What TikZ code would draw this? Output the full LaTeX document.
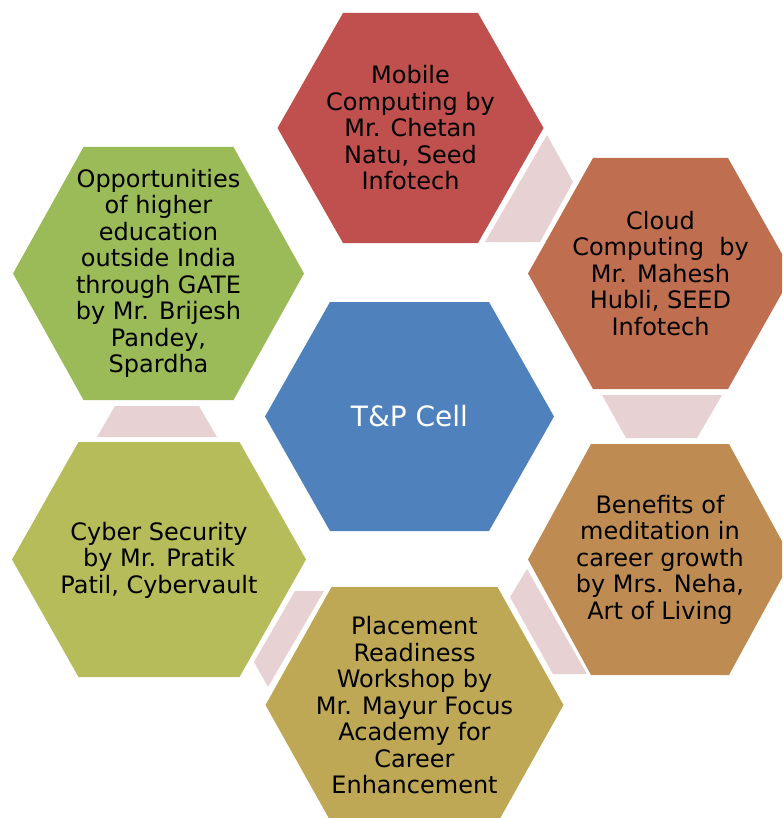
\documentclass[tikz,border=0pt]{standalone}
\usepackage{fontspec}
\setmainfont{DejaVu Sans}
\definecolor{cMob}{HTML}{C0504D}
\definecolor{cCld}{HTML}{BF6E50}
\definecolor{cBen}{HTML}{BE8C52}
\definecolor{cPla}{HTML}{BEA855}
\definecolor{cCyb}{HTML}{B6BC5A}
\definecolor{cOpp}{HTML}{9BBB59}
\definecolor{cTP}{HTML}{4F81BD}
\definecolor{cLink}{HTML}{E8D1D2}
% cx cy halfwidth tophalfwidth halfheight colour
\newcommand\hexshape[6]{%
  \fill[#6] ({#1-#3},{#2}) -- ({#1-#4},{#2-#5}) -- ({#1+#4},{#2-#5})
    -- ({#1+#3},{#2}) -- ({#1+#4},{#2+#5}) -- ({#1-#4},{#2+#5}) -- cycle;}
\begin{document}
\begin{tikzpicture}[x=1pt,y=-1pt,
  hextext/.style={font=\fontsize{24}{26.5}\selectfont, align=center, text=black, inner sep=0pt},
  centertext/.style={font=\fontsize{28}{32}\selectfont, align=center, text=white, inner sep=0pt},
  link/.style={fill=cLink}]
\useasboundingbox (0,0) rectangle (782,818);
\clip (0,0) rectangle (782,818);
% hexagons
\hexshape{410.5}{128}{133}{67.5}{115}{cMob}
\hexshape{660.5}{273.5}{132.5}{67.5}{115.5}{cCld}
\hexshape{660}{559.5}{132}{69}{115.5}{cBen}
\hexshape{414.5}{705}{149}{83}{118}{cPla}
\hexshape{159}{559.5}{147}{80.5}{117.5}{cCyb}
\hexshape{158.5}{273.5}{145.5}{75}{126.5}{cOpp}
\hexshape{409.5}{416.5}{144.5}{79.5}{114.5}{cTP}
% connectors
\fill[link] (547,135) -- (573,182) -- (540,242) -- (485,242) -- cycle;
\fill[link] (602,395) -- (722,395) -- (697,438) -- (626,438) -- cycle;
\fill[link] (527,569) -- (510,597) -- (553,674) -- (587,674) -- cycle;
\fill[link] (295,591) -- (324,591) -- (268,687) -- (254,662) -- cycle;
\fill[link] (115,406) -- (199,406) -- (217,437) -- (97,437) -- cycle;
% texts
\node[hextext] (mob) at (410.5,128) {Mobile\\Computing by\\Mr. Chetan\\Natu, Seed\\Infotech};
\node[hextext] (cld) at (660.5,273.5) {Cloud\\Computing\ \ by\\Mr. Mahesh\\Hubli, SEED\\Infotech};
\node[hextext] (ben) at (660,559.5) {Benefits of\\meditation in\\career growth\\by Mrs. Neha,\\Art of Living};
\node[hextext] (pla) at (414.5,705.5) {Placement\\Readiness\\Workshop by\\Mr. Mayur Focus\\Academy for\\Career\\Enhancement};
\node[hextext] (cyb) at (159,560) {Cyber Security\\by Mr. Pratik\\Patil, Cybervault};
\node[hextext] (opp) at (158.5,273.5) {Opportunities\\of higher\\education\\outside India\\through GATE\\by Mr. Brijesh\\Pandey,\\Spardha};
\node[centertext] (tp) at (409.5,416.5) {T\&P Cell};
\end{tikzpicture}
\end{document}
